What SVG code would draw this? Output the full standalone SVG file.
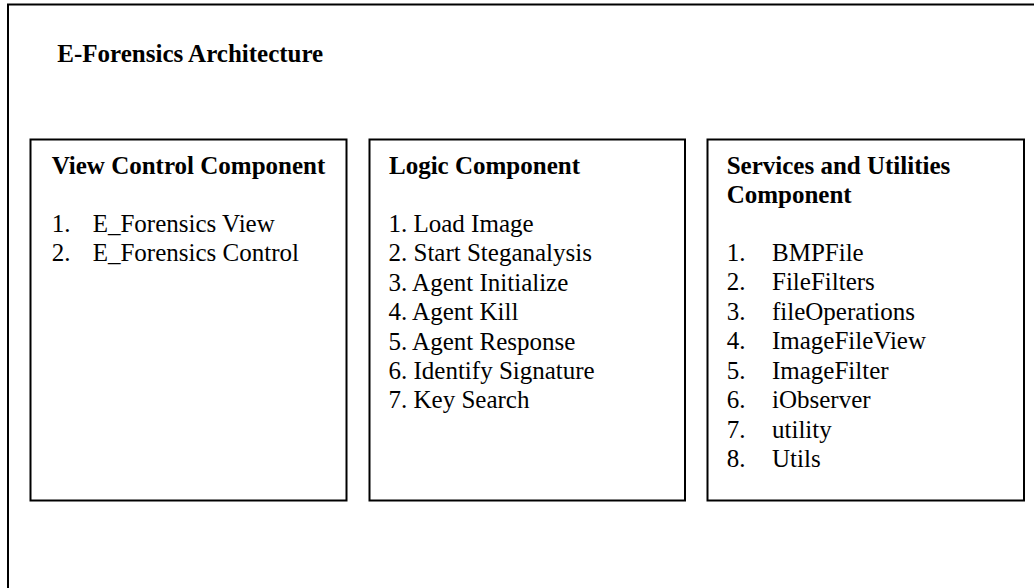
<svg xmlns="http://www.w3.org/2000/svg" width="1034" height="588" viewBox="0 0 1034 588">
<style>
.box{fill:none;stroke:#000;stroke-width:2}
text{font-family:"Liberation Serif","Times New Roman",serif;font-size:25px;fill:#000}
.h{font-weight:bold}
</style>
<rect width="1034" height="588" fill="#fff"/>
<g id="frame">
<rect class="box" x="8" y="4.5" width="1040" height="600"/>
<text class="h" x="57.3" y="61.7">E-Forensics Architecture</text>
</g>
<g id="view-control">
<rect class="box" x="30.5" y="139.5" width="316" height="361"/>
<text class="h" x="51.7" y="173.5">View Control Component</text>
<text x="51.7" y="232">1.</text><text x="92.7" y="232">E_Forensics View</text>
<text x="51.7" y="261.4">2.</text><text x="92.7" y="261.4">E_Forensics Control</text>
</g>
<g id="logic">
<rect class="box" x="369.5" y="139.5" width="315.5" height="361"/>
<text class="h" x="389" y="173.5">Logic Component</text>
<text x="388.5" y="232">1. Load Image</text>
<text x="388.5" y="261.4">2. Start Steganalysis</text>
<text x="388.5" y="290.8">3. Agent Initialize</text>
<text x="388.5" y="320.2">4. Agent Kill</text>
<text x="388.5" y="349.6">5. Agent Response</text>
<text x="388.5" y="379">6. Identify Signature</text>
<text x="388.5" y="408.4">7. Key Search</text>
</g>
<g id="services">
<rect class="box" x="707.5" y="139.5" width="316.5" height="361"/>
<text class="h" x="726.7" y="173.5">Services and Utilities</text>
<text class="h" x="726.7" y="202.5">Component</text>
<text x="726.7" y="260.5">1.</text><text x="772" y="260.5">BMPFile</text>
<text x="726.7" y="290">2.</text><text x="772" y="290">FileFilters</text>
<text x="726.7" y="319.5">3.</text><text x="772" y="319.5">fileOperations</text>
<text x="726.7" y="349">4.</text><text x="772" y="349">ImageFileView</text>
<text x="726.7" y="378.5">5.</text><text x="772" y="378.5">ImageFilter</text>
<text x="726.7" y="408">6.</text><text x="772" y="408">iObserver</text>
<text x="726.7" y="437.5">7.</text><text x="772" y="437.5">utility</text>
<text x="726.7" y="467">8.</text><text x="772" y="467">Utils</text>
</g>
<g id="connectors"></g>
</svg>
